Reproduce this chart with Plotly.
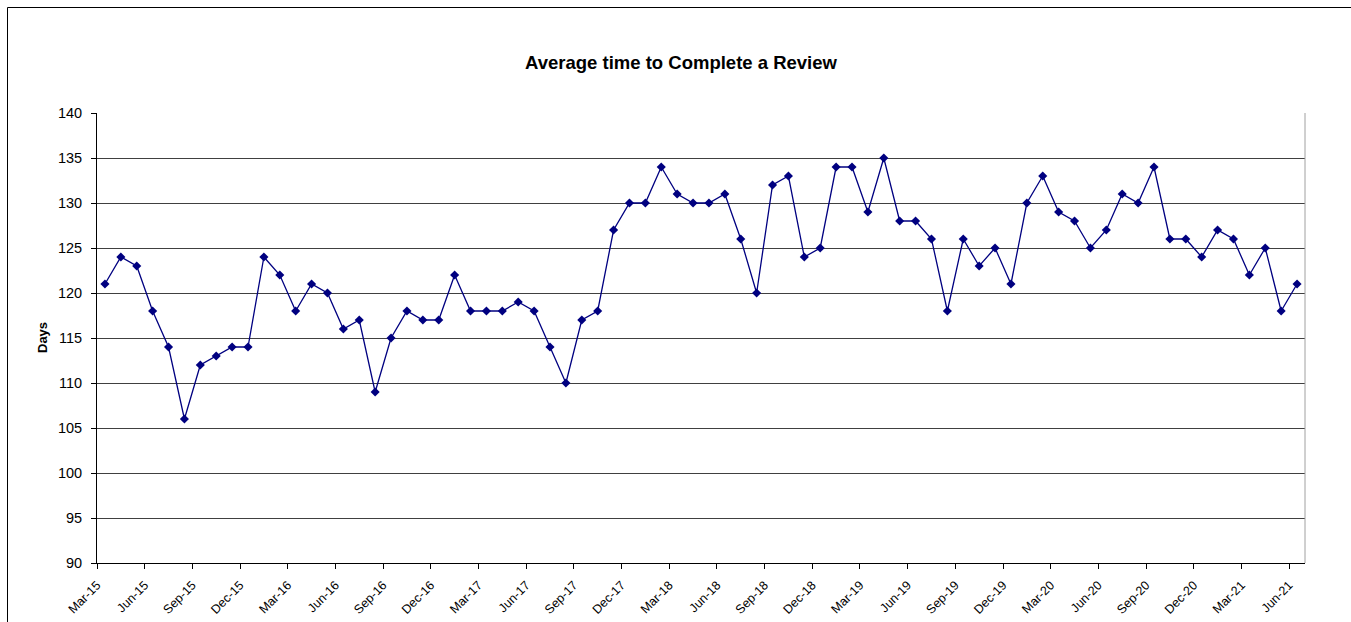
import plotly.graph_objects as go

months = [
    "Mar-15", "Apr-15", "May-15", "Jun-15", "Jul-15", "Aug-15", "Sep-15", "Oct-15", "Nov-15", "Dec-15",
    "Jan-16", "Feb-16", "Mar-16", "Apr-16", "May-16", "Jun-16", "Jul-16", "Aug-16", "Sep-16", "Oct-16", "Nov-16", "Dec-16",
    "Jan-17", "Feb-17", "Mar-17", "Apr-17", "May-17", "Jun-17", "Jul-17", "Aug-17", "Sep-17", "Oct-17", "Nov-17", "Dec-17",
    "Jan-18", "Feb-18", "Mar-18", "Apr-18", "May-18", "Jun-18", "Jul-18", "Aug-18", "Sep-18", "Oct-18", "Nov-18", "Dec-18",
    "Jan-19", "Feb-19", "Mar-19", "Apr-19", "May-19", "Jun-19", "Jul-19", "Aug-19", "Sep-19", "Oct-19", "Nov-19", "Dec-19",
    "Jan-20", "Feb-20", "Mar-20", "Apr-20", "May-20", "Jun-20", "Jul-20", "Aug-20", "Sep-20", "Oct-20", "Nov-20", "Dec-20",
    "Jan-21", "Feb-21", "Mar-21", "Apr-21", "May-21", "Jun-21",
]

days = [
    121, 124, 123, 118, 114, 106, 112, 113, 114, 114,
    124, 122, 118, 121, 120, 116, 117, 109, 115, 118, 117, 117,
    122, 118, 118, 118, 119, 118, 114, 110, 117, 118, 127, 130,
    130, 134, 131, 130, 130, 131, 126, 120, 132, 133, 124, 125,
    134, 134, 129, 135, 128, 128, 126, 118, 126, 123, 125, 121,
    130, 133, 129, 128, 125, 127, 131, 130, 134, 126, 126, 124,
    127, 126, 122, 125, 118, 121,
]

y_ticks = [90, 95, 100, 105, 110, 115, 120, 125, 130, 135, 140]
label_step = 3

FONT = "Arial, Liberation Sans, sans-serif"
NAVY = "#000080"

idx = list(range(len(months)))
tick_pos = [i - 0.5 for i in idx[::label_step]]
tick_txt = months[::label_step]

fig = go.Figure()
fig.add_trace(go.Scatter(
    x=idx, y=days, mode="lines+markers",
    line=dict(color=NAVY, width=1.3),
    marker=dict(symbol="diamond", size=7, color=NAVY),
    hovertext=months, showlegend=False,
))

W, H = 1351, 622
L, T = 97, 113
plot_right, plot_bottom = 1305, 563
R, B = W - plot_right, H - plot_bottom
pw, ph = W - L - R, H - T - B

def px_x(p):
    return (p - L) / pw

def px_y(p):
    return (plot_bottom - p) / ph

fig.update_layout(
    width=W, height=H,
    margin=dict(l=L, r=R, t=T, b=B, autoexpand=False),
    paper_bgcolor="white", plot_bgcolor="white",
    font=dict(family=FONT, color="black"),
    title=dict(text="<b>Average time to Complete a Review</b>",
               font=dict(size=18.5, family=FONT, color="black"),
               x=681 / W, xanchor="center", xref="container",
               y=1 - 63 / H, yanchor="middle", yref="container"),
    xaxis=dict(range=[-0.5, len(months) - 0.5], tickmode="array",
               tickvals=tick_pos, ticktext=tick_txt, tickangle=-45,
               tickfont=dict(size=12.5, family=FONT, color="black"),
               ticklabelstandoff=4, automargin=False,
               showgrid=False, zeroline=False,
               showline=True, linecolor="black", linewidth=1,
               ticks="outside", ticklen=5, tickcolor="black", tickwidth=1),
    yaxis=dict(range=[90, 140], tickmode="array", tickvals=y_ticks,
               tickfont=dict(size=14.5, family=FONT, color="black"),
               ticklabelstandoff=6, automargin=False,
               showgrid=True, gridcolor="#404040", gridwidth=1, zeroline=False,
               showline=True, linecolor="black", linewidth=1,
               ticks="outside", ticklen=5, tickcolor="black", tickwidth=1),
    annotations=[dict(text="<b>Days</b>", textangle=-90, showarrow=False,
                      xref="paper", yref="paper", x=px_x(42), y=px_y(338),
                      xanchor="center", yanchor="middle",
                      font=dict(size=13, family=FONT, color="black"))],
    shapes=[
        dict(type="line", xref="paper", yref="paper", x0=1, x1=1, y0=0, y1=1,
             line=dict(color="#a0a0a0", width=1)),
        dict(type="line", xref="paper", yref="paper", x0=px_x(7.5), x1=px_x(7.5),
             y0=px_y(7.5), y1=px_y(700), line=dict(color="black", width=1)),
        dict(type="line", xref="paper", yref="paper", x0=px_x(7.5), x1=px_x(1400),
             y0=px_y(7.5), y1=px_y(7.5), line=dict(color="black", width=1)),
    ],
)

fig.write_html(
    "out.html",
    config={"displayModeBar": False},
    post_script="document.body.style.margin='0';document.body.style.padding='0';",
)
